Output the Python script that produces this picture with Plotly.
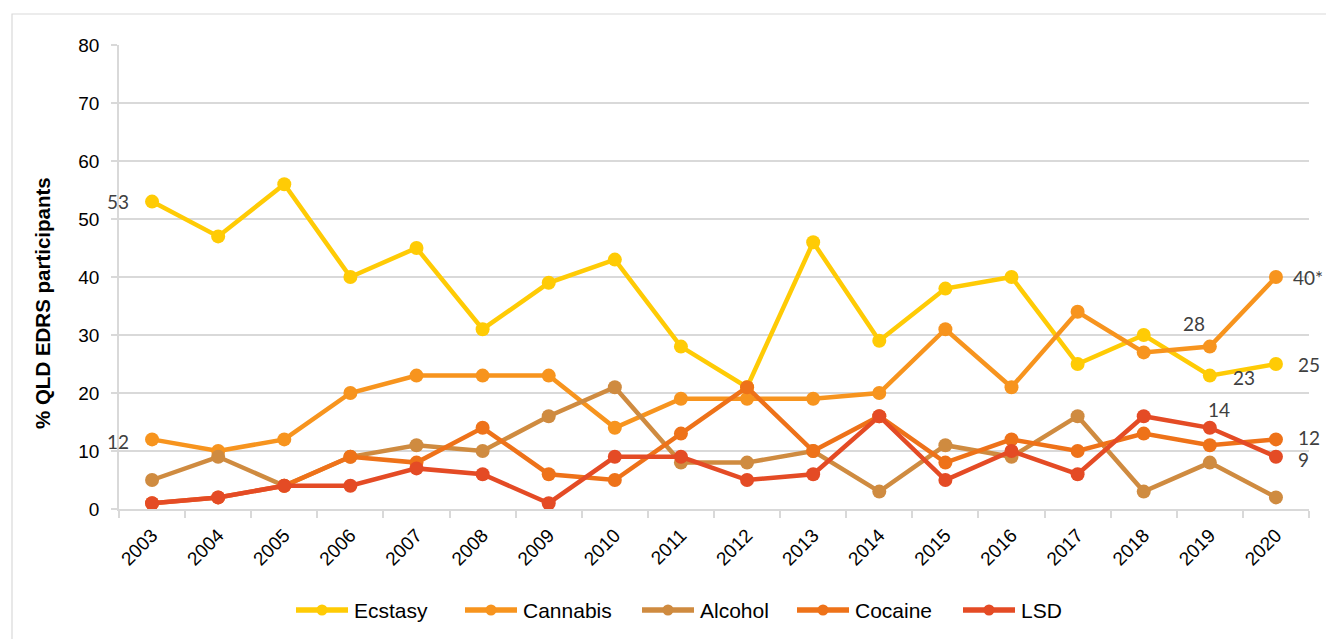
import plotly.graph_objects as go

# Survey years and per-drug percentages of QLD EDRS participants
years = [str(y) for y in range(2003, 2021)]
ecstasy = [53, 47, 56, 40, 45, 31, 39, 43, 28, 21, 46, 29, 38, 40, 25, 30, 23, 25]
cannabis = [12, 10, 12, 20, 23, 23, 23, 14, 19, 19, 19, 20, 31, 21, 34, 27, 28, 40]
alcohol = [5, 9, 4, 9, 11, 10, 16, 21, 8, 8, 10, 3, 11, 9, 16, 3, 8, 2]
cocaine = [1, 2, 4, 9, 8, 14, 6, 5, 13, 21, 10, 16, 8, 12, 10, 13, 11, 12]
lsd = [1, 2, 4, 4, 7, 6, 1, 9, 9, 5, 6, 16, 5, 10, 6, 16, 14, 9]

series_names = ["Ecstasy", "Cannabis", "Alcohol", "Cocaine", "LSD"]
series_values = [ecstasy, cannabis, alcohol, cocaine, lsd]
colors = ["#FFCB05", "#F7941E", "#CF8B40", "#EE7219", "#E44B25"]

y_title = "% QLD EDRS participants"
y_ticks = [0, 10, 20, 30, 40, 50, 60, 70, 80]

# Figure geometry (pixels)
W, H = 1326, 639
L, R, T, B = 119, 1309, 45, 509
PW, PH = R - L, B - T


def px(x):
    return (x - L) / PW


def py(y):
    return (B - y) / PH


GRID = "#D9D9D9"
LABEL_FONT = dict(family="Lato, Carlito, sans-serif", size=19, color="#404040")

fig = go.Figure()
for name, vals, col in zip(series_names, series_values, colors):
    fig.add_trace(go.Scatter(
        x=years, y=vals, name=name, mode="lines+markers",
        line=dict(color=col, width=4.5),
        marker=dict(color=col, size=14),
        cliponaxis=False, showlegend=False,
    ))

# Value labels on selected points (x given as category index)
labels = [
    # (series values, index, suffix, xanchor, xshift, yshift)
    (ecstasy, 0, "", "right", -22, 0),
    (cannabis, 0, "", "right", -22, -2),
    (cannabis, 16, "", "center", -16, 23),
    (ecstasy, 16, "", "left", 22, -2),
    (lsd, 16, "", "center", 9, 18),
    (cannabis, 17, "*", "left", 16, 0),
    (ecstasy, 17, "", "left", 21, 0),
    (cocaine, 17, "", "left", 21, 2),
    (lsd, 17, "", "left", 21, -3),
]
for vals, i, suffix, xa, xs, ys in labels:
    fig.add_annotation(
        x=i, y=vals[i], text=f"{vals[i]}{suffix}",
        xref="x", yref="y", showarrow=False,
        xanchor=xa, yanchor="middle", xshift=xs, yshift=ys,
        borderpad=0, font=LABEL_FONT,
    )

# Y-axis title
fig.add_annotation(
    x=px(42), y=py(303), xref="paper", yref="paper", text=f"<b>{y_title}</b>",
    textangle=-90, showarrow=False, xanchor="center", yanchor="middle",
    font=dict(family="Liberation Sans, Arial, sans-serif", size=20.5, color="#000000"),
)

# Legend row
legend_starts = [294, 463, 640, 795, 961]
legend_y = 610
shapes = []
for name, col, s in zip(series_names, colors, legend_starts):
    shapes.append(dict(type="line", xref="paper", yref="paper",
                       x0=px(s + 2), x1=px(s + 54), y0=py(legend_y), y1=py(legend_y),
                       line=dict(color=col, width=5.5)))
    shapes.append(dict(type="circle", xref="paper", yref="paper",
                       x0=px(s + 28 - 5.5), x1=px(s + 28 + 5.5),
                       y0=py(legend_y + 5.5), y1=py(legend_y - 5.5),
                       fillcolor=col, line=dict(color=col, width=0)))
    fig.add_annotation(
        x=px(s + 58), y=py(legend_y), xref="paper", yref="paper", text=name,
        showarrow=False, xanchor="left", yanchor="middle",
        font=dict(family="Liberation Sans, Arial, sans-serif", size=21, color="#000000"),
    )

# Outer frame
shapes.append(dict(type="rect", xref="paper", yref="paper",
                   x0=px(12), x1=px(1400), y0=py(14), y1=py(700),
                   line=dict(color=GRID, width=1.2), fillcolor="rgba(0,0,0,0)",
                   layer="below"))

fig.update_layout(
    width=W, height=H,
    margin=dict(l=L, r=W - R, t=T, b=H - B, pad=0),
    paper_bgcolor="white", plot_bgcolor="white",
    shapes=shapes,
    showlegend=False,
    font=dict(family="Liberation Sans, Arial, sans-serif", size=19, color="#000000"),
)
fig.update_xaxes(
    type="category", categoryorder="array", categoryarray=years,
    range=[-0.5, len(years) - 0.5],
    tickson="boundaries", ticks="outside", ticklen=7, tickcolor=GRID, tickwidth=1.5,
    showline=True, linecolor=GRID, linewidth=1.5,
    showgrid=False, tickangle=-45, zeroline=False,
    ticklabelstandoff=6,
    tickfont=dict(size=19, color="#000000"),
)
fig.update_yaxes(
    range=[0, 80], tickvals=y_ticks, ticks="outside", ticklen=6,
    tickcolor=GRID, tickwidth=1.5,
    showline=True, linecolor=GRID, linewidth=1.5,
    showgrid=True, gridcolor=GRID, gridwidth=1.5, zeroline=False,
    ticklabelstandoff=8,
    tickfont=dict(size=19, color="#000000"),
)

fig.write_html("out.html")
